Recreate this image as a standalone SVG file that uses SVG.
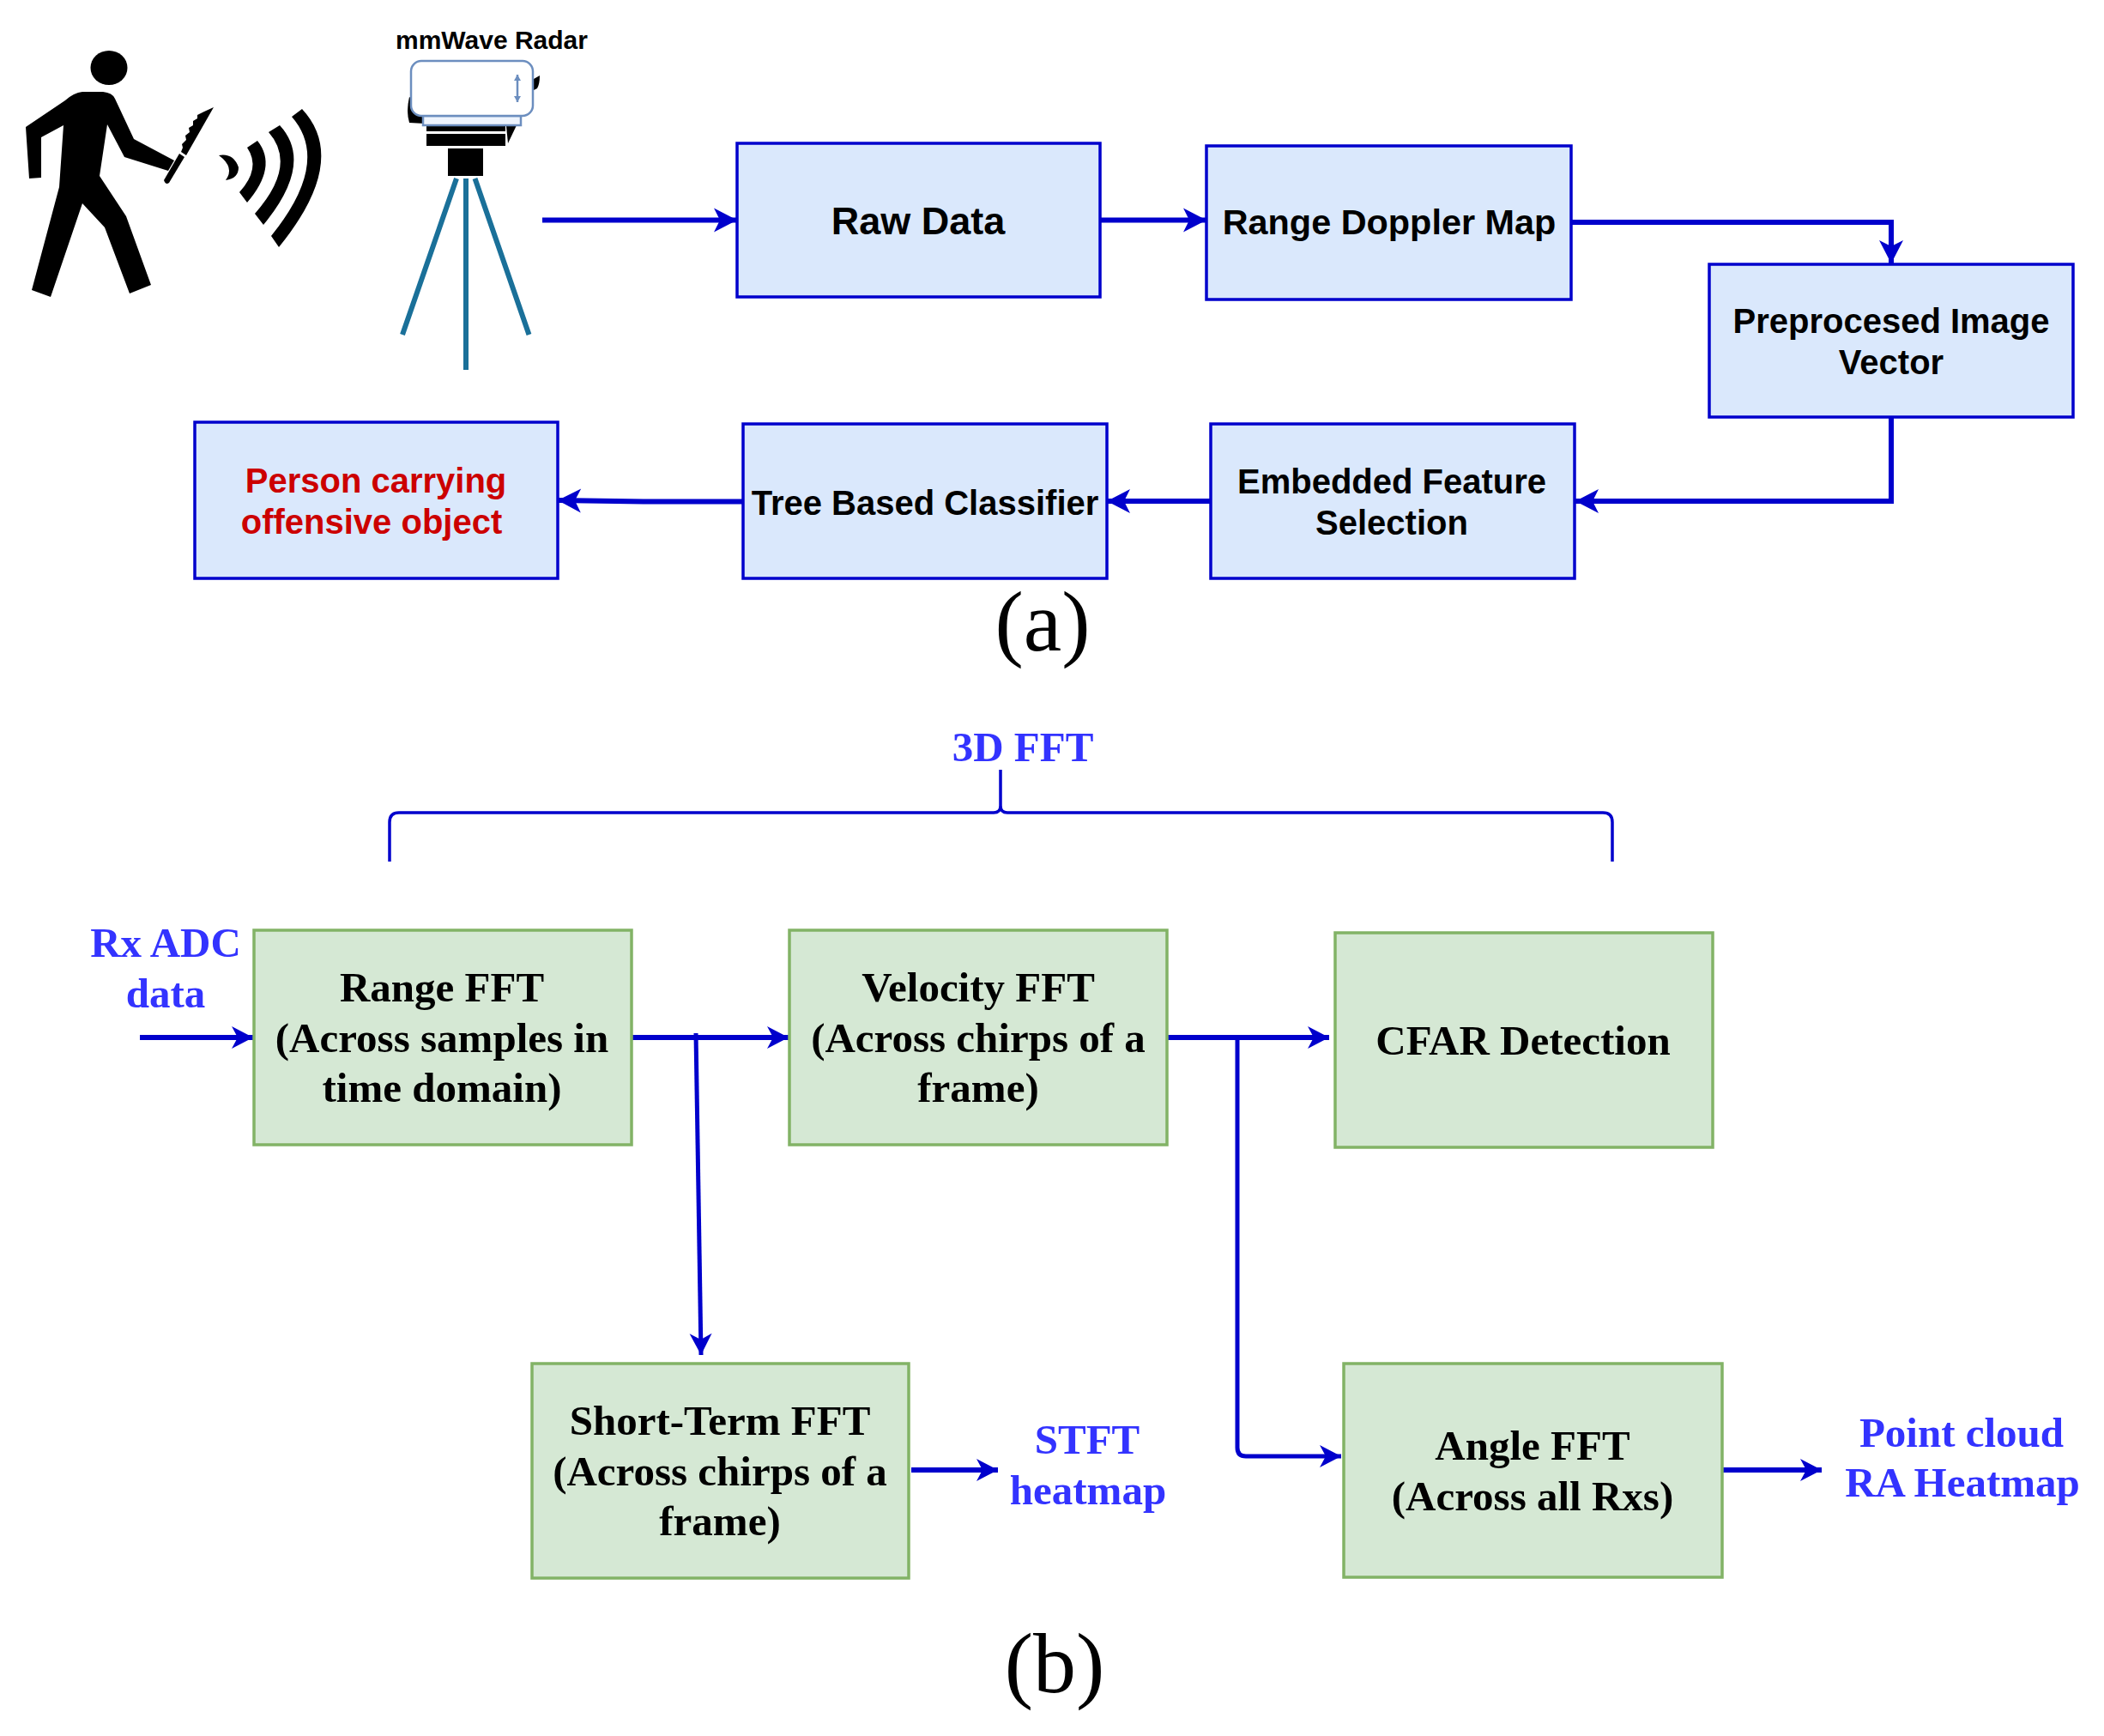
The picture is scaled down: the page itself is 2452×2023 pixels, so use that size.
<svg xmlns="http://www.w3.org/2000/svg" width="2452" height="2023" viewBox="0 0 2452 2023">
<style>
.a{fill:#dae8fc;stroke:#0000cc;stroke-width:3.5}
.g{fill:#d5e8d4;stroke:#82b366;stroke-width:3.5}
.t{font-family:"Liberation Sans",Arial,sans-serif;font-weight:700;font-size:40px;text-anchor:middle;fill:#000}
.s{font-family:"Liberation Serif","Times New Roman",serif;font-weight:700;font-size:49px;text-anchor:middle;fill:#000}
.b{fill:#3333ff}
.r{fill:#cc0000}
.c{fill:none;stroke:#0000cc;stroke-width:6}
.d{fill:none;stroke:#0000cc;stroke-width:5}
.e{fill:none;stroke:#0000cc;stroke-width:3.5}
.leg{stroke:#1a7099;stroke-width:6;fill:none}
.cap{font-family:"Liberation Serif","Times New Roman",serif;font-size:100px;text-anchor:middle;fill:#000}
</style>
<defs>
<marker id="ah" markerUnits="userSpaceOnUse" markerWidth="30" markerHeight="30" viewBox="-28 -15 30 30" refX="0" refY="0" orient="auto"><path d="M0,0L-27,-14L-20,0L-27,14Z" fill="#0000cc"/></marker>
<marker id="ah2" markerUnits="userSpaceOnUse" markerWidth="30" markerHeight="30" viewBox="-28 -15 30 30" refX="0" refY="0" orient="auto"><path d="M0,0L-25,-13L-18,0L-25,13Z" fill="#0000cc"/></marker>
</defs>
<rect width="2452" height="2023" fill="#fff"/>
<g id="person">
<ellipse cx="127" cy="79" rx="21.5" ry="20"/>
<path d="M30,148L76,117Q86,108 96,107L120,107Q131,108 134,115L156,162L203,187L196,199L145,183L125,145L116,205L147,252L176,332L151,342L122,265L96,237L59,346L37,338L69,218L74,146L48,160L48,207L34,208Z"/>
<path d="M209,179L215,183L197,213Q193,216 191,210Z"/>
<path d="M211,177L213,172L212,168L217,163L216,158L221,154L220,149L225,146L225,141L230,138L230,134L238,130L249,125L217,181Z"/>
</g>
<g id="waves">
<path d="M255,181Q272,178 278,195Q278,208 263,210Q274,195 255,181Z"/>
<path d="M288,172Q304.5,196 279,224L288,236Q324,194 300,164Z"/>
<path d="M313,154Q347,192.5 297,249L307,262Q366.5,190 326,146Z"/>
<path d="M340,136Q386,188.5 316,275L325,288Q407.5,186.5 352,127Z"/>
</g>
<g id="radar">
<text x="573" y="57" font-family="'Liberation Sans',Arial,sans-serif" font-weight="700" font-size="30" text-anchor="middle" fill="#000">mmWave Radar</text>
<path d="M477,113Q473,130 477,143L495,144L495,125Z"/>
<path d="M622,92L629,88Q629,98 626,103L620,106Z"/>
<path d="M590,147L602,146L592,167Z"/>
<rect x="497" y="146" width="92" height="7"/>
<rect x="497" y="156" width="92" height="14"/>
<rect x="522" y="173" width="41" height="32"/>
<rect x="493" y="135" width="114" height="11" fill="#eef4fd" stroke="#6c8ebf" stroke-width="2.5"/>
<rect x="479" y="71" width="142" height="64" rx="12" fill="#fff" stroke="#6c8ebf" stroke-width="2.5"/>
<path d="M603,87V119" stroke="#6c8ebf" stroke-width="2.5" fill="none"/>
<path d="M603,87L599,94H607ZM603,119L599,112H607Z" fill="#6c8ebf"/>
<path class="leg" d="M532,208L469,390M543,208V431M553.5,208L616.5,390"/>
</g>
<g id="connectors">
<path class="c" marker-end="url(#ah)" d="M632,256.5H859"/>
<path class="c" marker-end="url(#ah)" d="M1282,256.5H1406"/>
<path class="c" marker-end="url(#ah)" d="M1831,259H2204V307"/>
<path class="c" marker-end="url(#ah)" d="M2204,486V584H1836"/>
<path class="c" marker-end="url(#ah)" d="M1410,584H1290"/>
<path class="c" marker-end="url(#ah)" d="M866,584.5L750,584.5L650,583"/>
<path class="c" marker-end="url(#ah2)" d="M163,1209H295"/>
<path class="c" marker-end="url(#ah2)" d="M737,1209H919"/>
<path class="d" marker-end="url(#ah2)" d="M811,1204L817,1579"/>
<path class="c" marker-end="url(#ah2)" d="M1361,1209H1549"/>
<path class="d" marker-end="url(#ah2)" d="M1442,1209V1687Q1442,1697 1452,1697H1563"/>
<path class="c" marker-end="url(#ah2)" d="M1062,1713H1163"/>
<path class="c" marker-end="url(#ah2)" d="M2008,1713H2123"/>
<path class="e" d="M454,1004V958Q454,947 465,947H1158Q1166,947 1166,939V897V939Q1166,947 1174,947H1868Q1879,947 1879,958V1004"/>
</g>
<g id="raw-data"><rect class="a" x="859" y="167" width="423" height="179"/><text class="t" x="1070" y="273" style="font-size:45px">Raw Data</text></g>
<g id="range-doppler-map"><rect class="a" x="1406" y="170" width="425" height="179"/><text class="t" x="1619" y="273" style="font-size:41.4px">Range Doppler Map</text></g>
<g id="preprocessed-image-vector"><rect class="a" x="1992" y="308" width="424" height="178"/><text class="t" x="2204" y="388">Preprocesed Image</text><text class="t" x="2204" y="436">Vector</text></g>
<g id="embedded-feature-selection"><rect class="a" x="1411" y="494" width="424" height="180"/><text class="t" x="1622" y="575">Embedded Feature</text><text class="t" x="1622" y="623">Selection</text></g>
<g id="tree-based-classifier"><rect class="a" x="866" y="494" width="424" height="180"/><text class="t" x="1078" y="600">Tree Based Classifier</text></g>
<g id="person-carrying"><rect class="a" x="227" y="492" width="423" height="182"/><text class="t r" x="438" y="574">Person carrying</text><text class="t r" x="433" y="622">offensive object</text></g>
<text class="cap" x="1215" y="758">(a)</text>
<text class="s b" x="1192" y="887">3D FFT</text>
<g id="rx-adc-data"><text class="s b" x="193" y="1115">Rx ADC</text><text class="s b" x="193" y="1174">data</text></g>
<g id="range-fft"><rect class="g" x="296" y="1084" width="440" height="250"/><text class="s" x="515" y="1167">Range FFT</text><text class="s" x="515" y="1226">(Across samples in</text><text class="s" x="515" y="1284">time domain)</text></g>
<g id="velocity-fft"><rect class="g" x="920" y="1084" width="440" height="250"/><text class="s" x="1140" y="1167">Velocity FFT</text><text class="s" x="1140" y="1226">(Across chirps of a</text><text class="s" x="1140" y="1284">frame)</text></g>
<g id="cfar-detection"><rect class="g" x="1556" y="1087" width="440" height="250"/><text class="s" x="1775" y="1229">CFAR Detection</text></g>
<g id="short-term-fft"><rect class="g" x="620" y="1589" width="439" height="250"/><text class="s" x="839" y="1672">Short-Term FFT</text><text class="s" x="839" y="1731">(Across chirps of a</text><text class="s" x="839" y="1789">frame)</text></g>
<g id="angle-fft"><rect class="g" x="1566" y="1589" width="441" height="249"/><text class="s" x="1786" y="1701">Angle FFT</text><text class="s" x="1786" y="1760">(Across all Rxs)</text></g>
<g id="stft-heatmap"><text class="s b" x="1267" y="1694">STFT</text><text class="s b" x="1268" y="1753">heatmap</text></g>
<g id="point-cloud"><text class="s b" x="2286" y="1686">Point cloud</text><text class="s b" x="2287" y="1744">RA Heatmap</text></g>
<text class="cap" x="1229" y="1972">(b)</text>
</svg>
